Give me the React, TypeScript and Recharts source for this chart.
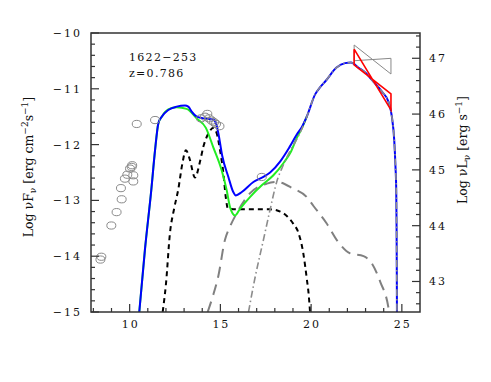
import React from 'react'
import { ComposedChart, Line, Scatter, XAxis, YAxis } from 'recharts'

// log nu [Hz] vs log nuFnu [erg cm-2 s-1]
const observed = [
  [8.39, -14.06], [8.44, -14.01], [8.99, -13.45], [9.28, -13.21], [9.56, -12.98],
  [9.52, -12.78], [9.74, -12.61], [9.87, -12.54], [10.2, -12.55], [10.2, -12.66],
  [10.11, -12.4], [10.02, -12.43], [10.14, -12.37], [10.39, -11.63], [11.4, -11.56],
  [13.93, -11.53], [14.15, -11.5], [14.28, -11.45], [14.37, -11.53], [14.52, -11.57],
  [14.65, -11.6], [14.76, -11.63], [14.95, -11.67], [17.28, -12.58],
]

const totalModel = [
  [10.53, -15], [10.84, -13.89], [11.19, -12.82], [11.4, -12.1], [11.58, -11.62],
  [11.77, -11.5], [12.13, -11.38], [12.59, -11.32], [13.05, -11.3], [13.23, -11.32],
  [13.42, -11.41], [13.7, -11.5], [14.06, -11.53], [14.61, -11.55], [14.76, -11.62],
  [14.89, -11.8], [15.1, -12.2], [15.44, -12.58], [15.71, -12.85], [15.85, -12.91],
  [16.18, -12.85], [16.82, -12.67], [17.37, -12.58], [17.74, -12.5], [18.3, -12.3],
  [18.8, -12.05], [19.21, -11.82], [19.5, -11.68], [19.76, -11.5], [20.22, -11.1],
  [20.5, -10.97], [20.8, -10.86], [21.4, -10.62], [21.87, -10.54], [22.2, -10.53],
  [22.6, -10.62], [23.0, -10.71], [23.35, -10.84], [23.9, -11.05], [24.26, -11.23],
  [24.45, -11.5], [24.58, -11.92], [24.65, -12.4], [24.69, -12.8], [24.71, -13.5],
  [24.72, -14.2], [24.73, -15],
]

const noDiskModel = [
  [10.53, -15], [10.84, -13.89], [11.19, -12.82], [11.4, -12.1], [11.58, -11.62],
  [11.77, -11.5], [12.13, -11.37], [12.59, -11.33], [13.14, -11.36], [13.69, -11.53],
  [14.2, -11.7], [14.61, -12.05], [15.07, -12.46], [15.35, -12.82], [15.53, -13.12],
  [15.81, -13.27], [16.08, -13.15], [16.63, -12.94], [17.28, -12.73], [17.92, -12.55],
  [18.5, -12.32], [18.9, -12.12], [19.21, -11.88], [19.5, -11.7], [19.76, -11.5],
]

const diskTorus = [
  [11.82, -15], [12.0, -14.5], [12.22, -13.59], [12.45, -13.15], [12.68, -12.8],
  [12.9, -12.35], [13.1, -12.1], [13.3, -12.25], [13.6, -12.59], [13.88, -12.3],
  [14.06, -12.04], [14.34, -11.8], [14.62, -11.7], [14.8, -11.8], [14.98, -12.1],
  [15.16, -12.5], [15.3, -12.95], [15.42, -13.15], [16.0, -13.16], [17.0, -13.16],
  [17.74, -13.16], [18.3, -13.2], [18.66, -13.28], [19.02, -13.42], [19.3, -13.58],
  [19.57, -13.95], [19.76, -14.4], [19.87, -14.7], [19.94, -15],
]

const sscModel = [
  [14.3, -15], [14.6, -14.7], [14.89, -14.35], [15.25, -13.71], [15.53, -13.47],
  [15.9, -13.23], [16.64, -12.87], [17.56, -12.7], [18.11, -12.67], [19.02, -12.79],
  [19.76, -12.94], [20.13, -13.1], [20.85, -13.41], [21.5, -13.75], [22.15, -13.95],
  [22.89, -14.0], [23.35, -14.13], [23.81, -14.46], [24.26, -14.92], [24.3, -15],
]

const ecModel = [
  [16.55, -15], [16.9, -14.4], [17.37, -13.71], [17.75, -13.15], [18.11, -12.66],
  [18.45, -12.38], [18.8, -12.14], [19.21, -11.9], [19.5, -11.71], [19.76, -11.5],
  [20.22, -11.1], [20.5, -10.97], [20.8, -10.86], [21.4, -10.62], [21.87, -10.54],
  [22.2, -10.53], [22.6, -10.62], [23.0, -10.71], [23.35, -10.84], [23.9, -11.05],
  [24.26, -11.23], [24.45, -11.5], [24.58, -11.92], [24.65, -12.4], [24.69, -12.8],
  [24.71, -13.5], [24.72, -14.2], [24.73, -15],
]

// gamma-ray butterflies
const fermiBowtie = [[22.37, -10.29], [24.4, -11.38], [24.4, -11.09], [22.37, -10.57], [22.37, -10.29]]
const egretBowtie = [[22.37, -10.215], [24.4, -10.735], [24.4, -10.454], [22.37, -10.497], [22.37, -10.215]]

const xMajor = [10, 15, 20, 25]
const yMajor = [-15, -14, -13, -12, -11, -10]
const rMajor = [43, 44, 45, 46, 47]

const range = (a: number, b: number, s: number) => {
  const out: number[] = []
  for (let v = a; v <= b + 1e-9; v += s) out.push(Math.round(v * 10) / 10)
  return out
}
const xTicks = range(8, 25, 1)
const yTicks = range(-15, -10, 0.2)
const rTicks = range(42.6, 47.4, 0.2)

const pts = (a: number[][]) => a.map(([x, y]) => ({ x, y }))
const isMajor = (v: number, m: number[]) => m.some((t) => Math.abs(t - v) < 1e-6)
const fmt = (v: number) => (v < 0 ? '\u2212' : '') + Math.abs(v)

const W = 491
const H = 382
const FONT = '"DejaVu Serif", serif'
const AXIS = '#333'
const tickText = { fontFamily: FONT, fontSize: 11, letterSpacing: 2, fill: '#111' }

// plot box edges in px
const PL = 91
const PR = 420
const PT = 33
const PB = 312

const BottomTick = (p: any) => {
  const major = isMajor(p.payload.value, xMajor)
  return (
    <g>
      <line x1={p.x} x2={p.x} y1={PB} y2={PB - (major ? 8 : 4)} stroke={AXIS} strokeWidth={1.2} />
      {major && (
        <text x={p.x + 1} y={PB + 16} textAnchor="middle" style={tickText}>{p.payload.value}</text>
      )}
    </g>
  )
}

const TopTick = (p: any) => {
  const major = isMajor(p.payload.value, xMajor)
  return <line x1={p.x} x2={p.x} y1={PT} y2={PT + (major ? 8 : 4)} stroke={AXIS} strokeWidth={1.2} />
}

const LeftTick = (p: any) => {
  const major = isMajor(p.payload.value, yMajor)
  return (
    <g>
      <line x1={PL} x2={PL + (major ? 8 : 4)} y1={p.y} y2={p.y} stroke={AXIS} strokeWidth={1.2} />
      {major && (
        <text x={PL - 9} y={p.y} dy="0.36em" textAnchor="end" style={tickText}>{fmt(p.payload.value)}</text>
      )}
    </g>
  )
}

const RightTick = (p: any) => {
  const major = isMajor(p.payload.value, rMajor)
  return (
    <g>
      <line x1={PR} x2={PR - (major ? 8 : 4)} y1={p.y} y2={p.y} stroke={AXIS} strokeWidth={1.2} />
      {major && (
        <text x={PR + 9} y={p.y} dy="0.36em" textAnchor="start" style={tickText}>{p.payload.value}</text>
      )}
    </g>
  )
}

const Ring = (p: any) => (
  <ellipse cx={p.cx} cy={p.cy} rx={4.5} ry={3.6} fill="none" stroke="#8a8a8a" strokeWidth={1} />
)

const curve = (data: number[][], color: string, width: number, dash?: string, type: any = 'monotone') => (
  <Line
    data={pts(data)}
    dataKey="y"
    xAxisId="b"
    yAxisId="l"
    type={type}
    stroke={color}
    strokeWidth={width}
    strokeDasharray={dash}
    dot={false}
    activeDot={false}
    isAnimationActive={false}
  />
)

export default function App() {
  return (
    <div style={{ position: 'absolute', left: 0, top: 0, width: W, height: H, background: '#fff' }}>
      <ComposedChart width={W} height={H} margin={{ top: PT - 2, right: W - PR - 2, bottom: H - PB - 2, left: PL - 2 }}>
        <XAxis xAxisId="b" dataKey="x" type="number" domain={[7.87, 26]} allowDataOverflow
          ticks={xTicks} interval={0} height={2} tickSize={1} tickMargin={0}
          axisLine={false} tickLine={false} tick={BottomTick} />
        <XAxis xAxisId="t" orientation="top" type="number" domain={[7.87, 26]} allowDataOverflow
          ticks={xTicks} interval={0} height={2} tickSize={1} tickMargin={0}
          axisLine={false} tickLine={false} tick={TopTick} />
        <YAxis yAxisId="l" dataKey="y" type="number" domain={[-15, -10]} allowDataOverflow
          ticks={yTicks} interval={0} width={2} tickSize={1} tickMargin={0}
          axisLine={false} tickLine={false} tick={LeftTick} />
        <YAxis yAxisId="r" orientation="right" type="number" domain={[42.453, 47.453]} allowDataOverflow
          ticks={rTicks} interval={0} width={2} tickSize={1} tickMargin={0}
          axisLine={false} tickLine={false} tick={RightTick} />

        {curve(sscModel, '#808080', 2, '11 7')}
        {curve(diskTorus, '#000', 2, '5 4')}
        {curve(noDiskModel, '#22ee22', 2)}
        {curve(totalModel, '#0000ff', 2)}
        {curve(ecModel, '#8c8c8c', 1.6, '7 3 1.5 3')}
        {curve(egretBowtie, '#888', 1, undefined, 'linear')}
        {curve(fermiBowtie, '#ff0000', 1.6, undefined, 'linear')}

        <Scatter data={pts(observed)} dataKey="y" xAxisId="b" yAxisId="l" shape={Ring} isAnimationActive={false} />
      </ComposedChart>

      <svg width={W} height={H} style={{ position: 'absolute', left: 0, top: 0, pointerEvents: 'none' }}>
        <rect x={PL} y={PT} width={PR - PL} height={PB - PT} fill="none" stroke={AXIS} strokeWidth={1.5} />
        <text x={129} y={61} style={{ fontFamily: FONT, fontSize: 11, letterSpacing: 1.3, fill: '#111' }}>1622{'\u2212'}253</text>
        <text x={129} y={77} style={{ fontFamily: FONT, fontSize: 11, letterSpacing: 1.3, fill: '#111' }}>z=0.786</text>

        <text x={33} y={167} transform="rotate(-90 33 167)" textAnchor="middle"
          style={{ fontFamily: FONT, fontSize: 12.5, fill: '#111' }}>
          Log νF<tspan dy={3} fontSize={9}>ν</tspan>
          <tspan dy={-3}> [erg cm</tspan>
          <tspan dy={-5} fontSize={9}>{'\u2212'}2</tspan>
          <tspan dy={5}>s</tspan>
          <tspan dy={-5} fontSize={9}>{'\u2212'}1</tspan>
          <tspan dy={5}>]</tspan>
        </text>

        <text x={467} y={150} transform="rotate(-90 467 150)" textAnchor="middle"
          style={{ fontFamily: FONT, fontSize: 12.5, fill: '#111' }}>
          Log νL<tspan dy={3} fontSize={9}>ν</tspan>
          <tspan dy={-3}> [erg s</tspan>
          <tspan dy={-5} fontSize={9}>{'\u2212'}1</tspan>
          <tspan dy={5}>]</tspan>
        </text>
      </svg>
    </div>
  )
}
